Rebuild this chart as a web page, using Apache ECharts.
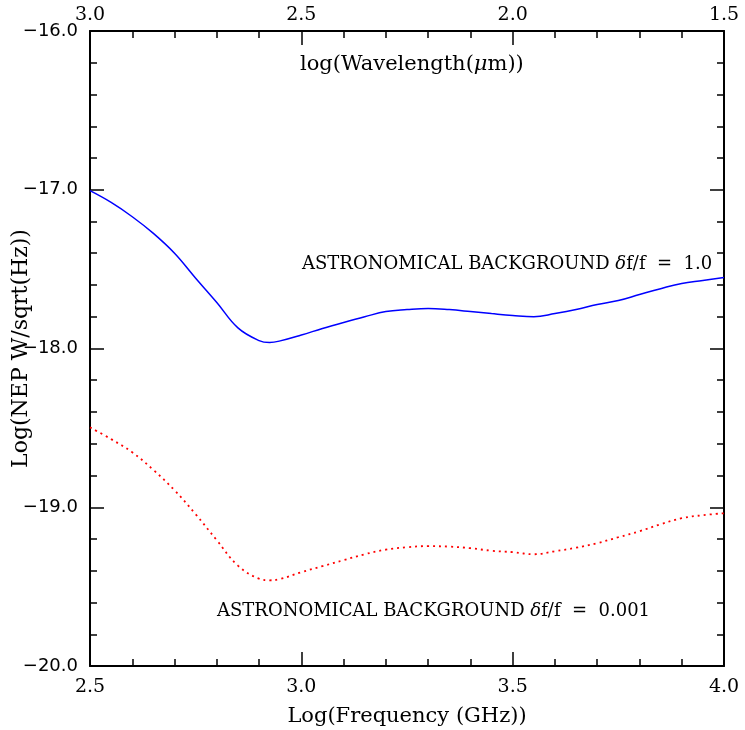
<!DOCTYPE html>
<html><head><meta charset="utf-8">
<script src="https://cdn.jsdelivr.net/npm/echarts@6/dist/echarts.min.js"></script>
<style>html,body{margin:0;padding:0;background:#fff}#c{width:745px;height:730px}</style>
</head><body><div id="c"></div>
<script>
// Log(Frequency GHz)
const logFreq = [2.50,2.55,2.60,2.65,2.70,2.75,2.80,2.85,2.90,2.925,2.95,3.00,3.05,3.10,3.15,3.20,3.25,3.30,3.35,3.40,3.45,3.50,3.55,3.60,3.65,3.70,3.75,3.80,3.85,3.90,3.95,4.00];
// Log NEP, delta f / f = 1.0
const nepWide = [-17.006,-17.080,-17.170,-17.275,-17.400,-17.557,-17.710,-17.870,-17.950,-17.962,-17.952,-17.915,-17.874,-17.836,-17.800,-17.767,-17.755,-17.748,-17.755,-17.767,-17.780,-17.792,-17.800,-17.780,-17.755,-17.723,-17.698,-17.660,-17.623,-17.590,-17.572,-17.553];
// Log NEP, delta f / f = 0.001
const nepNarrow = [-18.497,-18.571,-18.654,-18.765,-18.893,-19.044,-19.208,-19.368,-19.450,-19.460,-19.452,-19.409,-19.371,-19.333,-19.296,-19.267,-19.252,-19.245,-19.248,-19.258,-19.274,-19.283,-19.296,-19.277,-19.255,-19.226,-19.189,-19.151,-19.107,-19.069,-19.050,-19.038];
// tick labels
const bottomTicks = ['2.5','3.0','3.5','4.0'];
const topTicks = ['3.0','2.5','2.0','1.5'];

const chart = echarts.init(document.getElementById('c'));
const serif = 'DejaVu Serif';
const sans = 'DejaVu Sans';
const axisLine = {show:true, onZero:false, lineStyle:{color:'#000', width:2}};
const tick = {show:true, inside:true, length:14, lineStyle:{color:'#000', width:1.5}};
const minor = {show:true, splitNumber:5, length:7, lineStyle:{color:'#000', width:1.5}};
const pairs = d => logFreq.map((x,i)=>[x,d[i]]);
const rich = {a:{fontFamily:serif, fontSize:18, fill:'#000'}, b:{fontFamily:serif, fontSize:18, fontStyle:'italic', fill:'#000'}};

chart.setOption({
  animation:false,
  backgroundColor:'#fff',
  grid:{left:90, right:21, top:31, bottom:64, containLabel:false, outerBoundsMode:'none'},
  xAxis:[
    {type:'value', position:'bottom', min:2.5, max:4.0, interval:0.5,
     axisLine, axisTick:tick, minorTick:minor, splitLine:{show:false},
     axisLabel:{margin:12, color:'#000', fontFamily:serif, fontSize:19,
       formatter:v=>{const s=v.toFixed(1); return bottomTicks.includes(s)?s:'';}},
     name:'Log(Frequency (GHz))', nameLocation:'middle', nameGap:40, nameMoveOverlap:false,
     nameTextStyle:{color:'#000', fontFamily:serif, fontSize:21}},
    {type:'value', position:'top', min:2.5, max:4.0, interval:0.5,
     axisLine, axisTick:tick, minorTick:minor, splitLine:{show:false},
     axisLabel:{margin:6, color:'#000', fontFamily:serif, fontSize:19,
       formatter:v=>{const i=bottomTicks.indexOf(v.toFixed(1)); return i>=0?topTicks[i]:'';}}}
  ],
  yAxis:[
    {type:'value', position:'left', min:-20, max:-16, interval:1,
     axisLine, axisTick:tick, minorTick:minor, splitLine:{show:false},
     axisLabel:{margin:12, color:'#000', fontFamily:sans, fontSize:18,
       formatter:v=>'\u2212'+Math.abs(v).toFixed(1)},
     name:'Log(NEP W/sqrt(Hz))', nameLocation:'middle', nameGap:58, nameRotate:90, nameMoveOverlap:false,
     nameTextStyle:{color:'#000', fontFamily:serif, fontSize:22}},
    {type:'value', position:'right', min:-20, max:-16, interval:1,
     axisLine, axisTick:tick, minorTick:minor, splitLine:{show:false},
     axisLabel:{show:false}}
  ],
  series:[
    {type:'line', xAxisIndex:0, yAxisIndex:0, data:pairs(nepWide), smooth:0.4, showSymbol:false,
     lineStyle:{color:'#0000ff', width:1.5}},
    {type:'line', xAxisIndex:0, yAxisIndex:0, data:pairs(nepNarrow), smooth:0.4, showSymbol:false,
     lineStyle:{color:'#ff0000', width:1.8, type:[2,4]}}
  ],
  graphic:[
    {type:'text', left:300, top:54, style:{
      text:'{a|log(Wavelength(}{b|\u03bc}{a|m))}',
      rich:{a:{fontFamily:serif, fontSize:21, fill:'#000'}, b:{fontFamily:serif, fontSize:21, fontStyle:'italic', fill:'#000'}}}},
    {type:'text', left:302, top:255, style:{text:'{a|ASTRONOMICAL BACKGROUND }{b|\u03b4}{a|f/f  =  1.0}', rich}},
    {type:'text', left:217, top:602, style:{text:'{a|ASTRONOMICAL BACKGROUND }{b|\u03b4}{a|f/f  =  0.001}', rich}}
  ]
});
</script></body></html>
